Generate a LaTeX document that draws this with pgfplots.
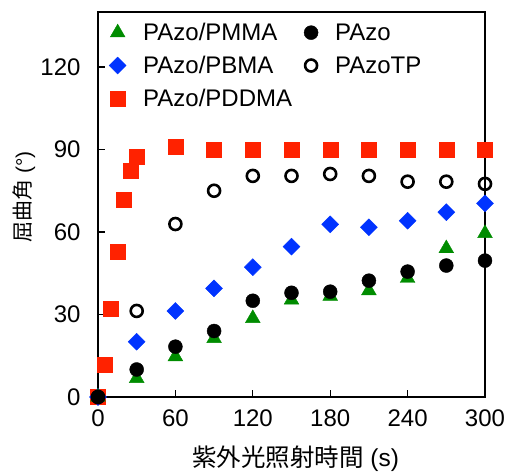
\documentclass[border=0pt]{standalone}
\usepackage{fontspec}
\setmainfont{Liberation Sans}
\newfontfamily\cjk{Noto Sans CJK JP}
\usepackage{pgfplots}
\pgfplotsset{compat=1.18}

\definecolor{cgreen}{RGB}{0,140,0}
\definecolor{cblue}{RGB}{0,51,255}
\definecolor{cred}{RGB}{255,34,0}

\begin{document}
\begin{tikzpicture}[x=1pt,y=1pt]
\useasboundingbox (-98,-77) rectangle (410,397);
\begin{axis}[
  at={(0,0)}, anchor=south west,
  scale only axis, width=387pt, height=385pt,
  xmin=0, xmax=300, ymin=0, ymax=140,
  xtick={0,60,...,300}, ytick={0,30,60,90,120},
  tick align=inside, major tick length=7pt,
  xtick pos=bottom, ytick pos=left,
  axis line style={line width=1.3pt}, tick style={line width=1.3pt, black},
  clip=false,
  /pgf/number format/assume math mode=true,
  tick label style={font=\fontsize{24}{28}\selectfont},
  xticklabel style={yshift=-9pt},
  yticklabel style={xshift=-14pt},
  xlabel={{\cjk 紫外光照射時間} (s)},
  xlabel style={font=\fontsize{24.5}{28}\selectfont, at={(axis description cs:0.5,0)}, anchor=center, yshift=-62pt, xshift=4pt},
  ylabel={{\cjk 屈曲角} (°)},
  ylabel style={font=\fontsize{21}{24}\selectfont, at={(axis description cs:-0.191,0.52)}, anchor=center},
  legend columns=2,
  legend cell align=left,
  legend image code/.code={\draw[#1] plot coordinates {(0pt,0pt)};},
  legend style={draw=none, fill=none, at={(axis description cs:0,1)}, anchor=north west,
    font=\fontsize{24}{27}\selectfont,
    xshift=8pt, yshift=-7pt, row sep=10pt,
    /tikz/every odd column/.append style={column sep=15pt},
    /tikz/every even column/.append style={column sep=10pt}},
]
% legend order
\addlegendimage{only marks, mark=triangle*, mark size=8.5pt, color=cgreen}
\addlegendentry{PAzo/PMMA}
\addlegendimage{only marks, mark=*, mark size=7pt, color=black}
\addlegendentry{PAzo}
\addlegendimage{only marks, mark=square*, mark size=6pt, mark options={rotate=45}, color=cblue}
\addlegendentry{PAzo/PBMA}
\addlegendimage{only marks, mark=o, mark size=6pt, mark options={line width=2.6pt}, color=black}
\addlegendentry{PAzoTP}
\addlegendimage{only marks, mark=square*, mark size=7.5pt, color=cred}
\addlegendentry{PAzo/PDDMA}

% PAzo/PDDMA
\addplot[forget plot, only marks, mark=square*, mark size=7.5pt, color=cred] coordinates {
(0,0) (5,11.6) (10,32.2) (15,52.8) (20,71.9) (25,82.3) (30,87.3) (60,91)
(90,90) (120,90) (150,90) (180,90) (210,90) (240,90) (270,90) (300,90)};
% PAzo/PBMA
\addplot[forget plot, only marks, mark=square*, mark size=6pt, mark options={rotate=45}, color=cblue] coordinates {
(0,0) (30,20.1) (60,31.3) (90,39.5) (120,47.2) (150,54.7) (180,62.8) (210,61.7) (240,64.1) (270,67.2) (300,70.4)};
% PAzo/PMMA
\addplot[forget plot, only marks, mark=triangle*, mark size=8.5pt, color=cgreen] coordinates {
(0,0) (30,6.8) (60,14.7) (90,21.3) (120,28.6) (150,35.3) (180,36.7) (210,38.7) (240,43.2) (270,54) (300,59.5)};
% PAzoTP
\addplot[forget plot, only marks, mark=o, mark size=6pt, mark options={line width=2.6pt}, color=black] coordinates {
(0,0) (30,31.3) (60,62.9) (90,75) (120,80.4) (150,80.4) (180,81.1) (210,80.4) (240,78.3) (270,78.3) (300,77.5)};
% PAzo
\addplot[forget plot, only marks, mark=*, mark size=7pt, color=black] coordinates {
(0,0) (30,10) (60,18.3) (90,24) (120,35) (150,37.9) (180,38.3) (210,42.3) (240,45.6) (270,47.8) (300,49.6)};
\end{axis}
\end{tikzpicture}
\end{document}
